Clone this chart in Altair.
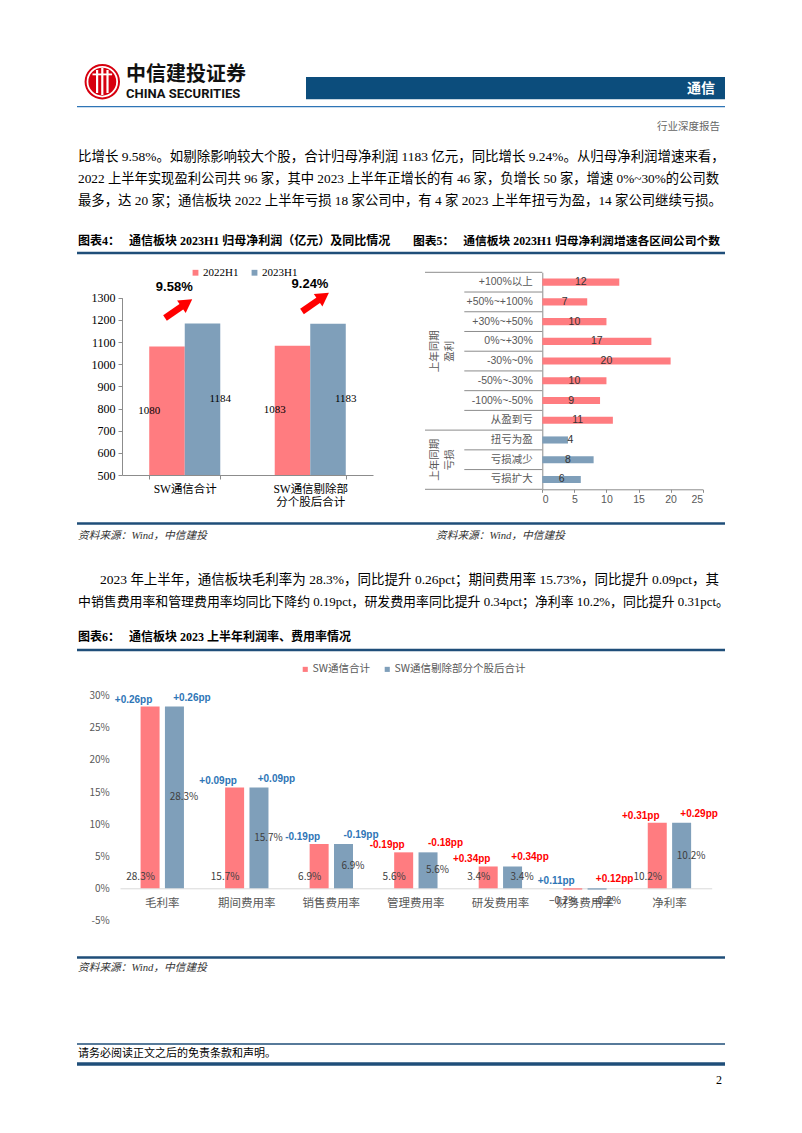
import altair as alt
import pandas as pd

W, H = 802, 1133

# ---------------- data ----------------
c4_categories = ["SW通信合计", "SW通信剔除部\n分个股后合计"]
c4_series = ["2022H1", "2023H1"]
c4_h1_2022 = [1080, 1083]
c4_h1_2023 = [1184, 1183]
c4_growth = ["9.58%", "9.24%"]

c5_categories = ["+100%以上", "+50%~+100%", "+30%~+50%", "0%~+30%", "-30%~0%",
                 "-50%~-30%", "-100%~-50%", "从盈到亏", "扭亏为盈", "亏损减少", "亏损扩大"]
c5_counts = [12, 7, 10, 17, 20, 10, 9, 11, 4, 8, 6]
c5_groups = ["上年同期盈利"] * 8 + ["上年同期亏损"] * 3

c6_categories = ["毛利率", "期间费用率", "销售费用率", "管理费用率", "研发费用率", "财务费用率", "净利率"]
c6_series = ["SW通信合计", "SW通信剔除部分个股后合计"]
c6_total = [28.3, 15.7, 6.9, 5.6, 3.4, -0.2, 10.2]
c6_excl = [28.3, 15.7, 6.9, 5.6, 3.4, -0.2, 10.2]
c6_total_pp = ["+0.26pp", "+0.09pp", "-0.19pp", "-0.19pp", "+0.34pp", "+0.11pp", "+0.31pp"]
c6_excl_pp = ["+0.26pp", "+0.09pp", "-0.19pp", "-0.18pp", "+0.34pp", "+0.12pp", "+0.29pp"]
c6_total_tone = ["蓝", "蓝", "蓝", "红", "红", "蓝", "红"]
c6_excl_tone = ["蓝", "蓝", "蓝", "红", "红", "红", "红"]

para1 = [
    "比增长 9.58%。如剔除影响较大个股，合计归母净利润 1183 亿元，同比增长 9.24%。从归母净利润增速来看，",
    "2022 上半年实现盈利公司共 96 家，其中 2023 上半年正增长的有 46 家，负增长 50 家，增速 0%~30%的公司数",
    "最多，达 20 家；通信板块 2022 上半年亏损 18 家公司中，有 4 家 2023 上半年扭亏为盈，14 家公司继续亏损。",
]
para2 = [
    "2023 年上半年，通信板块毛利率为 28.3%，同比提升 0.26pct；期间费用率 15.73%，同比提升 0.09pct，其",
    "中销售费用率和管理费用率均同比下降约 0.19pct，研发费用率同比提升 0.34pct；净利率 10.2%，同比提升 0.31pct。",
]

# ---------------- styles ----------------
RED = "#FF7C80"
BLUE = "#7F9FBA"
PP_BLUE = "#2E75B6"
PP_RED = "#FF0000"
NAVY = "#1F4E79"
GRAY_AX = "#8C8C8C"
SANS = "Noto Sans CJK SC"
SERIF_MIX = "Liberation Serif, Noto Sans CJK SC"
ARIAL_MIX = "Liberation Sans, Noto Sans CJK SC"
GAP = "\u00a0\u00a0\u00a0"

one = pd.DataFrame({"k": [0]})


def text(s, x, y, size=13, color="#000000", font=SERIF_MIX, weight="normal",
         align="left", angle=0, style="normal"):
    return alt.Chart(pd.DataFrame({"t": [s]})).mark_text(
        x=x, y=y, fontSize=size, color=color, font=font, fontWeight=weight,
        align=align, angle=angle, fontStyle=style, baseline="middle"
    ).encode(text="t:N")


def hline(x1, x2, y, color=NAVY, width=1.0):
    return alt.Chart(one).mark_rule(color=color, strokeWidth=width).encode(
        x=alt.value(x1), x2=alt.value(x2), y=alt.value(y))


def seg(x1, y1, x2, y2, color, width):
    return alt.Chart(one).mark_rule(color=color, strokeWidth=width, strokeCap="butt").encode(
        x=alt.value(x1), x2=alt.value(x2), y=alt.value(y1), y2=alt.value(y2))


def rect(x1, x2, y1, y2, color):
    return alt.Chart(one).mark_rect(color=color).encode(
        x=alt.value(x1), x2=alt.value(x2), y=alt.value(y1), y2=alt.value(y2))


def sym(x, y, size, color, shape="circle", filled=True, angle=0, stroke_w=0):
    kw = dict(shape=shape, size=size, filled=filled, angle=angle, opacity=1)
    if filled:
        kw["fill"] = color
        kw["strokeWidth"] = 0
    else:
        kw["stroke"] = color
        kw["strokeWidth"] = stroke_w
    return alt.Chart(one).mark_point(**kw).encode(x=alt.value(x), y=alt.value(y))


layers = []

# ---------------- page header ----------------
layers += [
    sym(102.3, 81.7, 1257, "#D7000F"),
    sym(102.3, 81.7, 880, "white", filled=False, stroke_w=1.8),
    rect(96.0, 98.2, 70, 93, "white"),
    rect(101.2, 103.4, 68, 95, "white"),
    rect(106.4, 108.6, 70, 93, "white"),
    rect(92.5, 112.1, 73.5, 75.3, "white"),
    text("中信建投证券", 126, 74.5, size=20, weight="bold", font=SANS, color="#111111"),
    text("CHINA SECURITIES", 126, 94.2, size=13, weight="bold", font="Roboto", color="#111111"),
    rect(306, 725, 77, 99.3, "#0C4D7C"),
    text("通信", 715, 88.5, size=14, weight="bold", font=SANS, color="white", align="right"),
    hline(77, 725, 106.7, color="#2E75B6", width=1.3),
    text("行业深度报告", 720, 127.3, size=10.5, color="#666666", font=SANS, align="right"),
]
para1_sizes = [13.45, 13.3, 13.35]
for i, line in enumerate(para1):
    layers.append(text(line, 78, 156.5 + 22 * i, size=para1_sizes[i]))

layers += [
    text("图表4：" + GAP + "通信板块 2023H1 归母净利润（亿元）及同比情况", 78, 240.5, size=12, weight="bold"),
    text("图表5：" + GAP + "通信板块 2023H1 归母净利润增速各区间公司个数", 413, 240.5, size=11.8, weight="bold"),
    hline(77, 725, 253, width=2.5),
    hline(77, 725, 523.5, width=2.5),
    text("资料来源：Wind，中信建投", 78, 535.5, size=10.7, style="italic", color="#333333"),
    text("资料来源：Wind，中信建投", 436, 535.5, size=10.7, style="italic", color="#333333"),
    text(para2[0], 100, 579.5, size=13.5),
    text(para2[1], 78, 601.5, size=12.9),
    text("图表6：" + GAP + "通信板块 2023 上半年利润率、费用率情况", 78, 637, size=12, weight="bold"),
    hline(77, 725, 650, width=2.5),
    hline(77, 725, 957.5, width=2.5),
    text("资料来源：Wind，中信建投", 78, 968, size=10.7, style="italic", color="#333333"),
    hline(77, 725, 1044, width=1.5),
    text("请务必阅读正文之后的免责条款和声明。", 78, 1053.5, size=11),
    hline(77, 725, 1064, width=3.5),
    text("2", 722, 1080, size=12, align="right"),
]

# ---------------- chart 4 ----------------
df4 = pd.DataFrame({
    "cat": c4_categories + c4_categories,
    "series": [c4_series[0]] * 2 + [c4_series[1]] * 2,
    "value": c4_h1_2022 + c4_h1_2023,
})
C4_BASE = 500
x4_scale = alt.Scale(domain=c4_categories, range=[122, 373], paddingInner=0.434, paddingOuter=0.217)
xo4_scale = alt.Scale(domain=c4_series, paddingInner=0, paddingOuter=0)
y4_scale = alt.Scale(domain=[500, 1300], range=[475, 297.7], nice=False, zero=False)

x4_axis = alt.Axis(orient="bottom", offset=475 - H, domainColor=GRAY_AX, tickColor=GRAY_AX, tickSize=4,
                   tickBand="extent", labelFont=SERIF_MIX, labelFontSize=11.5, labelColor="#000000",
                   labelPadding=4, labelAngle=0, labelExpr="split(datum.label, '\\n')",
                   labelLineHeight=13.3, grid=False, title=None)
y4_axis = alt.Axis(orient="left", offset=-122, values=list(range(500, 1301, 100)), format="d",
                   domainColor=GRAY_AX, tickColor=GRAY_AX, tickSize=4, labelFont="Liberation Serif",
                   labelFontSize=12, labelColor="#000000", labelPadding=3, grid=False, title=None)

bars4 = alt.Chart(df4).mark_bar().encode(
    x=alt.X("cat:N", scale=x4_scale, axis=x4_axis, sort=c4_categories),
    xOffset=alt.XOffset("series:N", scale=xo4_scale),
    y=alt.Y("value:Q", scale=y4_scale, axis=y4_axis),
    y2=alt.datum(C4_BASE),
    color=alt.Color("series:N", scale=alt.Scale(domain=c4_series, range=[RED, BLUE]),
                    legend=alt.Legend(orient="none", legendX=190, legendY=267, direction="horizontal",
                                      title=None, symbolType="square", symbolSize=34, symbolStrokeWidth=0,
                                      labelFont="Liberation Serif", labelFontSize=11, labelColor="#000000",
                                      labelOffset=2, columnPadding=10, padding=0)),
)
labels4 = alt.Chart(df4).transform_calculate(
    mid=f"({C4_BASE} + datum.value) / 2"
).mark_text(font="Liberation Serif", fontSize=11, color="#000000", baseline="middle").encode(
    x=alt.X("cat:N", scale=x4_scale, axis=None, sort=c4_categories),
    xOffset=alt.XOffset("series:N", scale=xo4_scale),
    y=alt.Y("mid:Q", scale=y4_scale, axis=None),
    text=alt.Text("value:Q", format="d"),
)
layers += [bars4, labels4]

# growth annotations with arrows
layers += [
    text(c4_growth[0], 174.3, 286.7, size=13, weight="bold", font="Liberation Sans", align="center"),
    text(c4_growth[1], 310, 283.8, size=13, weight="bold", font="Liberation Sans", align="center"),
    seg(165, 318, 183.5, 305.3, "#FF0000", 6.5),
    sym(186.8, 303.0, 230, "#FF0000", shape="triangle-up", angle=55.5),
    seg(302, 311.5, 320.2, 298.8, "#FF0000", 6.5),
    sym(323.5, 296.5, 230, "#FF0000", shape="triangle-up", angle=55.5),
]

# ---------------- chart 5 ----------------
df5 = pd.DataFrame({"cat": c5_categories, "count": c5_counts, "group": c5_groups})
C5_Y0, C5_Y1 = 272.3, 489.3
C5_X0, C5_X1 = 542.3, 702.7
y5_scale = alt.Scale(domain=c5_categories, range=[C5_Y0, C5_Y1], paddingInner=0.64, paddingOuter=0.32)
y5_edge = alt.Scale(domain=c5_categories, range=[C5_Y0, C5_Y1], paddingInner=0, paddingOuter=0)
x5_scale = alt.Scale(domain=[0, 25], range=[C5_X0, C5_X1], nice=False, zero=True)
groups_unique = ["上年同期盈利", "上年同期亏损"]

x5_axis = alt.Axis(orient="bottom", offset=C5_Y1 - H, values=[0, 5, 10, 15, 20, 25], domainColor=GRAY_AX,
                   tickColor=GRAY_AX, tickSize=3, labelFont=ARIAL_MIX, labelFontSize=10.5,
                   labelColor="#595959", labelPadding=2, grid=False, title=None)
y5_axis = alt.Axis(orient="left", offset=-C5_X0, domainColor=GRAY_AX, ticks=False, labelFont=ARIAL_MIX,
                   labelFontSize=10.5, labelColor="#595959", labelPadding=10, grid=False, title=None)

bars5 = alt.Chart(df5).mark_bar().encode(
    y=alt.Y("cat:N", scale=y5_scale, axis=y5_axis, sort=c5_categories),
    x=alt.X("count:Q", scale=x5_scale, axis=x5_axis),
    color=alt.Color("group:N", scale=alt.Scale(domain=groups_unique, range=[RED, BLUE]), legend=None),
)
labels5 = alt.Chart(df5).transform_calculate(
    lx="datum.count < 5 ? datum.count + 0.4 : datum.count / 2"
).mark_text(font="Liberation Sans", fontSize=10.5, color="#333333", baseline="middle").encode(
    y=alt.Y("cat:N", scale=y5_scale, axis=None, sort=c5_categories),
    x=alt.X("lx:Q", scale=x5_scale, axis=None),
    text="count:Q",
)
first_rows = [c5_categories[0], c5_categories[8]]
sep_outer = alt.Chart(df5).transform_filter(
    alt.FieldOneOfPredicate(field="cat", oneOf=first_rows)
).mark_rule(color=GRAY_AX, strokeWidth=1).encode(
    y=alt.Y("cat:N", bandPosition=0, scale=y5_edge, axis=None),
    x=alt.value(425), x2=alt.value(C5_X0),
)
sep_inner = alt.Chart(df5).transform_filter(
    ~alt.FieldOneOfPredicate(field="cat", oneOf=first_rows)
).mark_rule(color=GRAY_AX, strokeWidth=1).encode(
    y=alt.Y("cat:N", bandPosition=0, scale=y5_edge, axis=None),
    x=alt.value(464.3), x2=alt.value(C5_X0),
)
sep_bottom = alt.Chart(df5).transform_filter(
    alt.FieldEqualPredicate(field="cat", equal=c5_categories[-1])
).mark_rule(color=GRAY_AX, strokeWidth=1).encode(
    y=alt.Y("cat:N", bandPosition=1, scale=y5_edge, axis=None),
    x=alt.value(425), x2=alt.value(C5_X0),
)
layers += [sep_outer, sep_inner, sep_bottom, bars5, labels5]
step5 = (C5_Y1 - C5_Y0) / len(c5_categories)
g1_mid = C5_Y0 + 4 * step5
g2_mid = C5_Y0 + 9.5 * step5
layers += [
    text("上年同期", 435, g1_mid, size=10.5, color="#595959", font=SANS, align="center", angle=270),
    text("盈利", 450, g1_mid, size=10.5, color="#595959", font=SANS, align="center", angle=270),
    text("上年同期", 435, g2_mid, size=10.5, color="#595959", font=SANS, align="center", angle=270),
    text("亏损", 450, g2_mid, size=10.5, color="#595959", font=SANS, align="center", angle=270),
]

# ---------------- chart 6 ----------------
n6 = len(c6_categories)
df6 = pd.DataFrame({
    "cat": c6_categories * 2,
    "series": [c6_series[0]] * n6 + [c6_series[1]] * n6,
    "value": c6_total + c6_excl,
    "pp": c6_total_pp + c6_excl_pp,
    "tone": c6_total_tone + c6_excl_tone,
})
ZERO6 = 888.3
x6_scale = alt.Scale(domain=c6_categories, range=[120, 711.7], paddingInner=0.487, paddingOuter=0.2435)
xo6_scale = alt.Scale(domain=c6_series, paddingInner=0.22, paddingOuter=0)
y6_scale = alt.Scale(domain=[-5, 30], range=[920.4, 695.7], nice=False, zero=False)

x6_axis = alt.Axis(orient="bottom", offset=ZERO6 - H, domainColor="#D9D9D9", domainWidth=1, ticks=False,
                   labelFont=SANS, labelFontSize=11.5, labelColor="#595959", labelPadding=9,
                   labelAngle=0, grid=False, title=None)
y6_axis = alt.Axis(orient="left", offset=-120, values=[-5, 0, 5, 10, 15, 20, 25, 30], domain=False,
                   ticks=False, labelExpr="datum.value + '%'", labelFont=SANS, labelFontSize=10,
                   labelColor="#595959", labelPadding=10.7, grid=False, title=None)

base6 = alt.Chart(df6).transform_calculate(
    lab="format(datum.value, '.1f') + '%'",
    zero="0",
    mid="datum.value / 2",
    top="max(datum.value, 0)",
)


def x6(axis=None):
    return alt.X("cat:N", scale=x6_scale, axis=axis, sort=c6_categories)


xo6 = alt.XOffset("series:N", scale=xo6_scale)

bars6 = base6.mark_bar().encode(
    x=x6(x6_axis), xOffset=xo6,
    y=alt.Y("value:Q", scale=y6_scale, axis=y6_axis),
    y2=alt.datum(0),
    color=alt.Color("series:N", scale=alt.Scale(domain=c6_series, range=[RED, BLUE]),
                    legend=alt.Legend(orient="none", legendX=300, legendY=664, direction="horizontal",
                                      title=None, symbolType="square", symbolSize=26, symbolStrokeWidth=0,
                                      labelFont=SANS, labelFontSize=10.5, labelColor="#595959",
                                      labelOffset=2, columnPadding=12, padding=0)),
)
layers.append(bars6)

val_style = dict(font=SANS, fontSize=10, color="#404040", baseline="middle")
s0 = f"datum.series == '{c6_series[0]}'"
s1 = f"datum.series == '{c6_series[1]}'"
layers += [
    base6.transform_filter(f"{s0} && datum.value >= 0").mark_text(dy=-11.8, **val_style).encode(
        x=x6(), xOffset=xo6, y=alt.Y("zero:Q", scale=y6_scale, axis=None), text="lab:N"),
    base6.transform_filter("datum.value < 0").mark_text(dy=12.5, **val_style).encode(
        x=x6(), xOffset=xo6, y=alt.Y("zero:Q", scale=y6_scale, axis=None), text="lab:N"),
    base6.transform_filter(f"{s1} && datum.value >= 0").mark_text(**val_style).encode(
        x=x6(), xOffset=xo6, y=alt.Y("mid:Q", scale=y6_scale, axis=None), text="lab:N"),
]
pp_color = alt.Color("tone:N", scale=alt.Scale(domain=["蓝", "红"], range=[PP_BLUE, PP_RED]), legend=None)
pp_style = dict(font="Liberation Sans", fontSize=10, fontWeight="bold", baseline="middle")
layers += [
    base6.transform_filter(s0).mark_text(dx=-7, dy=-7, **pp_style).encode(
        x=x6(), xOffset=xo6, y=alt.Y("top:Q", scale=y6_scale, axis=None), text="pp:N", color=pp_color),
    base6.transform_filter(s1).mark_text(dx=8, dy=-9, **pp_style).encode(
        x=x6(), xOffset=xo6, y=alt.Y("top:Q", scale=y6_scale, axis=None), text="pp:N", color=pp_color),
]

chart = alt.layer(*layers).resolve_scale(
    x="independent", y="independent", color="independent", xOffset="independent"
).properties(
    width=W, height=H, autosize=alt.AutoSizeParams(type="none"), padding=0, background="white"
).configure_view(stroke=None)

chart.save("out.html", embed_options={"renderer": "svg", "actions": False})
